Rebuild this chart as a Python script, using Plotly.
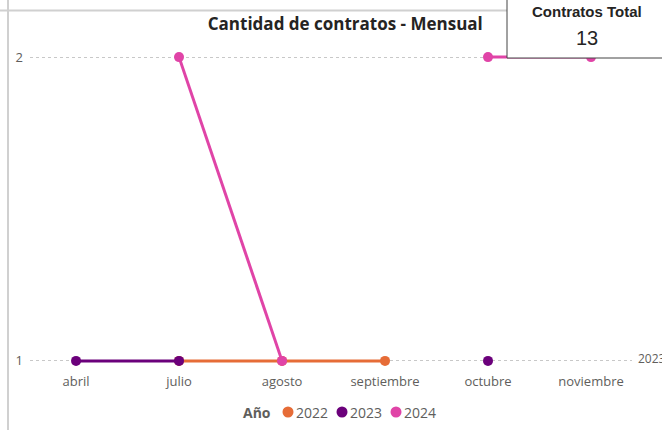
import plotly.graph_objects as go

months = ["abril", "julio", "agosto", "septiembre", "octubre", "noviembre"]
years = ["2022", "2023", "2024"]
v2022 = [None, 1, 1, 1, None, None]
v2023 = [1, 1, None, None, 1, None]
v2024 = [None, 2, 1, None, 2, 2]
colors = ["#E66C37", "#6B007B", "#E044A7"]
legend_title = "Año"
total_label = "Contratos Total"
total_value = "13"
title = "Cantidad de contratos - Mensual"
ytick_vals = [1, 2]
end_label = "2023"

W, H = 662, 430
L, R, T, B = 30, 30, 48, 60
PW, PH = W - L - R, H - T - B


def px(x):
    return (x - L) / PW


def py(y):
    return (H - B - y) / PH


FONT = "Open Sans"
fig = go.Figure()
idx = list(range(len(months)))
for name, vals, col in zip(years, [v2022, v2023, v2024], colors):
    fig.add_trace(go.Scatter(
        x=idx, y=vals, mode="lines+markers", name=name,
        line=dict(color=col, width=3), marker=dict(color=col, size=10),
        connectgaps=False, showlegend=False, cliponaxis=False,
    ))

fig.update_layout(
    width=W, height=H,
    margin=dict(l=L, r=R, t=T, b=B),
    paper_bgcolor="white", plot_bgcolor="white",
    font=dict(family=FONT, color="#605E5C", size=13),
    title=dict(text="<b>" + title + "</b>", x=px(344), xanchor="center", y=1 - 24 / H,
               yanchor="middle", font=dict(family=FONT, size=17, color="#252423")),
    xaxis=dict(range=[-0.447, 5.398], tickvals=idx, ticktext=months,
               showgrid=False, zeroline=False, showline=False, ticks="",
               ticklabelstandoff=2, tickfont=dict(size=13, color="#605E5C")),
    yaxis=dict(range=[0.97, 2.03], tickvals=ytick_vals, showgrid=True,
               gridcolor="#C8C8C8", griddash="dot", gridwidth=1,
               zeroline=False, showline=False, ticks="",
               ticklabelstandoff=6, tickfont=dict(size=13, color="#605E5C")),
    showlegend=False,
)

# visual border lines
fig.add_shape(type="line", xref="paper", yref="paper", x0=px(8), x1=px(8), y0=py(440), y1=py(-10),
              line=dict(color="#D0D0D0", width=2), layer="above")
fig.add_shape(type="line", xref="paper", yref="paper", x0=px(0), x1=px(510), y0=py(10.5), y1=py(10.5),
              line=dict(color="#D0D0D0", width=2), layer="above")

# end label
fig.add_annotation(xref="paper", yref="y", x=px(636), y=1.0, text=end_label, showarrow=False,
                   xanchor="left", yanchor="middle", yshift=2, font=dict(size=12, color="#605E5C"))

# card
fig.add_shape(type="rect", xref="paper", yref="paper", x0=px(507), x1=px(680), y0=py(58), y1=py(-20),
              fillcolor="white", line=dict(color="#444444", width=1), layer="above")
fig.add_annotation(xref="paper", yref="paper", x=px(587), y=py(11), text="<b>" + total_label + "</b>",
                   showarrow=False, font=dict(family="Liberation Sans", size=15, color="#252423"),
                   xanchor="center", yanchor="middle")
fig.add_annotation(xref="paper", yref="paper", x=px(587), y=py(38), text=total_value,
                   showarrow=False, font=dict(family="Liberation Sans", size=20, color="#252423"),
                   xanchor="center", yanchor="middle")

# legend
fig.add_annotation(xref="paper", yref="paper", x=px(273), y=py(412), text="<b>" + legend_title + "</b>",
                   showarrow=False, xanchor="right", yanchor="middle",
                   font=dict(size=14, color="#605E5C"))
leg_x = [288, 342, 396]
for name, col, cx in zip(years, colors, leg_x):
    fig.add_shape(type="circle", xref="paper", yref="paper", xsizemode="pixel", ysizemode="pixel",
                  xanchor=px(cx), yanchor=py(412), x0=-5.5, x1=5.5, y0=-5.5, y1=5.5,
                  fillcolor=col, line=dict(width=0), layer="above")
    fig.add_annotation(xref="paper", yref="paper", x=px(cx + 6), y=py(412), text=name,
                       showarrow=False, xanchor="left", yanchor="middle",
                       font=dict(size=14, color="#605E5C"))

fig.write_html("out.html", config={"displayModeBar": False},
               post_script="document.body.style.margin='0';")
